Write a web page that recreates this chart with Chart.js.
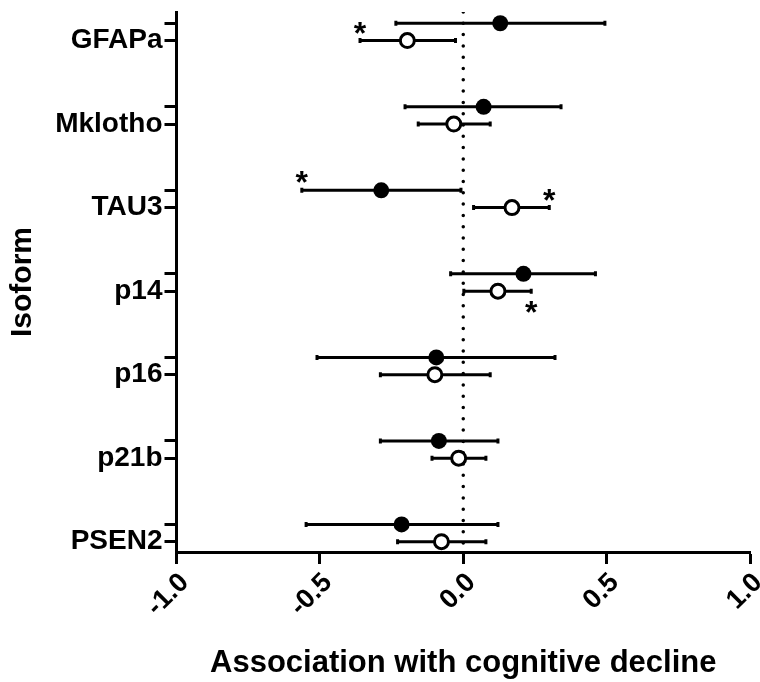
<!DOCTYPE html>
<html>
<head>
<meta charset="utf-8">
<script src="https://cdn.jsdelivr.net/npm/chart.js@4.4.1/dist/chart.umd.min.js"></script>
<style>
  html, body { margin: 0; padding: 0; background: #ffffff; }
  #wrap { width: 760px; height: 682px; position: relative; }
</style>
</head>
<body>
<div id="wrap"><canvas id="c" width="760" height="682"></canvas></div>
<script>
// ---- data ----
const categories = ['GFAPa', 'Mklotho', 'TAU3', 'p14', 'p16', 'p21b', 'PSEN2'];

// filled-circle series (estimate and interval)
const filledEst = [0.129, 0.071, -0.286, 0.210, -0.094, -0.085, -0.215];
const filledLo  = [-0.235, -0.203, -0.563, -0.044, -0.510, -0.289, -0.548];
const filledHi  = [0.494, 0.341, -0.008, 0.461, 0.320, 0.121, 0.121];

// open-circle series (estimate and interval)
const openEst = [-0.195, -0.033, 0.170, 0.121, -0.099, -0.016, -0.076];
const openLo  = [-0.360, -0.157, 0.036, 0.002, -0.289, -0.109, -0.229];
const openHi  = [-0.027, 0.094, 0.300, 0.237, 0.094, 0.079, 0.079];

// significance marks: category, series, which end, above/below
const sigCats   = ['GFAPa', 'TAU3', 'TAU3', 'p14'];
const sigSeries = ['open', 'filled', 'open', 'open'];
const sigEnd    = ['lo', 'lo', 'hi', 'hi'];
const sigSide   = ['above', 'above', 'above', 'below'];

const xTickValues = [-1.0, -0.5, 0.0, 0.5, 1.0];
const xTickLabels = ['-1.0', '-0.5', '0.0', '0.5', '1.0'];
const referenceValue = 0;

// ---- layout helpers (not data) ----
const FONT = "'Liberation Sans', Arial, Helvetica, sans-serif";
const rowShift = 0.207;     // filled row sits slightly above the open row
const yMin = -0.342, yMax = 6.123;

const yOpen = categories.map((c, i) => i);
const yFilled = categories.map((c, i) => i - rowShift);

function pts(est, ys) { return est.map((v, i) => ({ x: v, y: ys[i] })); }
function whiskers(lo, hi, ys) {
  const out = [];
  lo.forEach((v, i) => {
    out.push({ x: lo[i], y: ys[i] });
    out.push({ x: hi[i], y: ys[i] });
    out.push({ x: hi[i], y: null });
  });
  return out;
}

const sigPlugin = {
  id: 'sig',
  afterDatasetsDraw(chart) {
    const ctx = chart.ctx, xs = chart.scales.x, ys = chart.scales.y;
    ctx.save();
    ctx.fillStyle = '#000';
    ctx.font = 'bold 32px ' + FONT;
    ctx.textAlign = 'center';
    ctx.textBaseline = 'alphabetic';
    const m = ctx.measureText('*');
    const asc = m.actualBoundingBoxAscent, desc = m.actualBoundingBoxDescent;
    sigCats.forEach((cat, k) => {
      const i = categories.indexOf(cat);
      const isOpen = sigSeries[k] === 'open';
      const lo = isOpen ? openLo : filledLo, hi = isOpen ? openHi : filledHi;
      const yv = isOpen ? yOpen[i] : yFilled[i];
      const xv = sigEnd[k] === 'lo' ? lo[i] : hi[i];
      const px = xs.getPixelForValue(xv);
      const cy = ys.getPixelForValue(yv) + (sigSide[k] === 'above' ? -13 : 16);
      ctx.fillText('*', px, cy - (desc - asc) / 2);
    });
    ctx.restore();
  }
};

const ctx = document.getElementById('c').getContext('2d');
new Chart(ctx, {
  type: 'scatter',
  data: {
    datasets: [
      {
        label: 'filled',
        data: pts(filledEst, yFilled),
        pointStyle: 'circle',
        pointRadius: 8,
        pointBackgroundColor: '#000',
        pointBorderColor: '#000',
        pointBorderWidth: 0,
        showLine: false
      },
      {
        label: 'open',
        data: pts(openEst, yOpen),
        pointStyle: 'circle',
        pointRadius: 7,
        pointBackgroundColor: '#fff',
        pointBorderColor: '#000',
        pointBorderWidth: 3,
        showLine: false
      },
      {
        label: 'filled interval',
        data: whiskers(filledLo, filledHi, yFilled),
        showLine: true,
        spanGaps: false,
        borderColor: '#000',
        borderWidth: 3,
        pointStyle: 'line',
        rotation: 90,
        pointRadius: 2.5,
        pointBorderWidth: 3,
        pointBorderColor: '#000',
        pointBackgroundColor: '#000'
      },
      {
        label: 'open interval',
        data: whiskers(openLo, openHi, yOpen),
        showLine: true,
        spanGaps: false,
        borderColor: '#000',
        borderWidth: 3,
        pointStyle: 'line',
        rotation: 90,
        pointRadius: 2.5,
        pointBorderWidth: 3,
        pointBorderColor: '#000',
        pointBackgroundColor: '#000'
      },
      {
        label: 'reference',
        data: [{ x: referenceValue, y: yMin }, { x: referenceValue, y: yMax }],
        showLine: true,
        borderColor: '#000',
        borderWidth: 3.5,
        borderDash: [0, 11.3],
        borderCapStyle: 'round',
        pointRadius: 0
      }
    ]
  },
  options: {
    responsive: false,
    animation: false,
    events: [],
    layout: { padding: { top: 12, right: 8, left: 0, bottom: 0 } },
    plugins: { legend: { display: false }, tooltip: { enabled: false } },
    scales: {
      x: {
        type: 'linear',
        position: 'bottom',
        min: -1, max: 1,
        afterBuildTicks(scale) { scale.ticks = xTickValues.map(v => ({ value: v })); },
        afterFit(scale) { scale.height = 130; scale.paddingRight = 0; scale.paddingLeft = 0; },
        grid: { drawOnChartArea: false, drawTicks: true, tickLength: 12, tickWidth: 3, tickColor: '#000' },
        border: { display: true, color: '#000', width: 3 },
        ticks: {
          color: '#000',
          font: { family: FONT, size: 27, weight: 'bold' },
          minRotation: 45, maxRotation: 45,
          padding: 3,
          labelOffset: 8,
          callback: (v) => xTickLabels[xTickValues.indexOf(v)]
        },
        title: {
          display: true,
          text: 'Association with cognitive decline',
          color: '#000',
          font: { family: FONT, size: 31, weight: 'bold', lineHeight: 1.2 },
          padding: { top: 0, bottom: 0 }
        }
      },
      y: {
        type: 'linear',
        position: 'left',
        reverse: true,
        min: yMin, max: yMax,
        afterBuildTicks(scale) {
          const t = [];
          categories.forEach((c, i) => { t.push({ value: yFilled[i] }); t.push({ value: yOpen[i] }); });
          scale.ticks = t;
        },
        afterFit(scale) { scale.width = 176.5; scale.paddingTop = 0; scale.paddingBottom = 0; },
        grid: { drawOnChartArea: false, drawTicks: true, tickLength: 12, tickWidth: 3, tickColor: '#000' },
        border: { display: true, color: '#000', width: 3 },
        ticks: {
          color: '#000',
          font: { family: FONT, size: 28, weight: 'bold' },
          padding: 2,
          autoSkip: false,
          callback: (v) => (Number.isInteger(v) ? categories[v] : '')
        },
        title: {
          display: true,
          text: 'Isoform',
          color: '#000',
          font: { family: FONT, size: 30, weight: 'bold', lineHeight: 1.2 },
          padding: { top: 5, bottom: 0 }
        }
      }
    }
  },
  plugins: [sigPlugin]
});
</script>
</body>
</html>
